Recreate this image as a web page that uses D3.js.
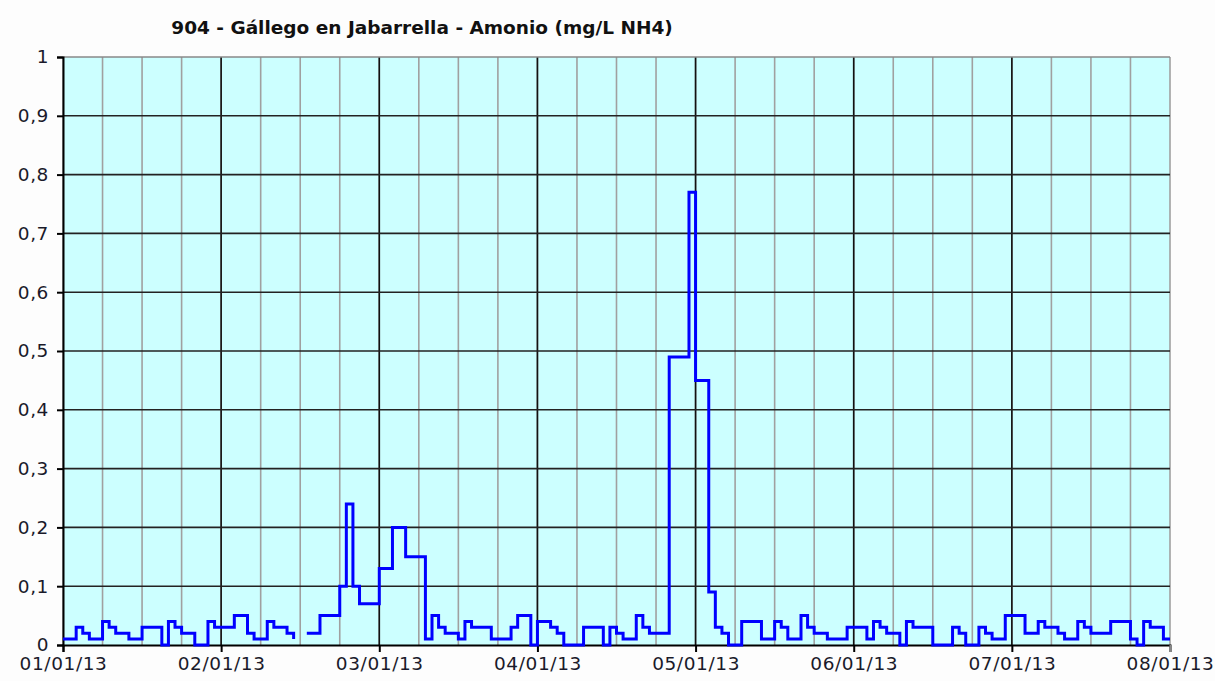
<!DOCTYPE html>
<html>
<head>
<meta charset="utf-8">
<script src="https://cdn.jsdelivr.net/npm/d3@7"></script>
<style>
  body { margin: 0; background: #fdfdfd; }
  svg { display: block; }
</style>
</head>
<body>
<div id="chart"></div>
<script>
// hourly readings, 01/01/13 00:00 onward (null = no data)
var day1 = [0.01,0.01,0.03,0.02,0.01,0.01,0.04,0.03,0.02,0.02,0.01,0.01,0.03,0.03,0.03,0,0.04,0.03,0.02,0.02,0,0,0.04,0.03];
var day2 = [0.03,0.03,0.05,0.05,0.02,0.01,0.01,0.04,0.03,0.03,0.02,0.01,null,0.02,0.02,0.05,0.05,0.05,0.1,0.24,0.1,0.07,0.07,0.07];
var day3 = [0.13,0.13,0.2,0.2,0.15,0.15,0.15,0.01,0.05,0.03,0.02,0.02,0.01,0.04,0.03,0.03,0.03,0.01,0.01,0.01,0.03,0.05,0.05,0];
var day4 = [0.04,0.04,0.03,0.02,0,0,0,0.03,0.03,0.03,0,0.03,0.02,0.01,0.01,0.05,0.03,0.02,0.02,0.02,0.49,0.49,0.49,0.77];
var day5 = [0.45,0.45,0.09,0.03,0.02,0,0,0.04,0.04,0.04,0.01,0.01,0.04,0.03,0.01,0.01,0.05,0.03,0.02,0.02,0.01,0.01,0.01,0.03];
var day6 = [0.03,0.03,0.01,0.04,0.03,0.02,0.02,0,0.04,0.03,0.03,0.03,0,0,0,0.03,0.02,0,0,0.03,0.02,0.01,0.01,0.05];
var day7 = [0.05,0.05,0.02,0.02,0.04,0.03,0.03,0.02,0.01,0.01,0.04,0.03,0.02,0.02,0.02,0.04,0.04,0.04,0.01,0,0.04,0.03,0.03,0.01];
var lastValue = [0.01];

var yTicks = [0,0.1,0.2,0.3,0.4,0.5,0.6,0.7,0.8,0.9,1];
var title = "904 - Gállego en Jabarrella - Amonio (mg/L NH4)";

var values = [].concat(day1, day2, day3, day4, day5, day6, day7, lastValue);
var start = new Date(2013, 0, 1);
var data = values.map(function(v, i) { return { t: d3.timeHour.offset(start, i), v: v }; });

var W = 1215, H = 681;
var margin = { left: 63, right: 45, top: 57, bottom: 36 };

var svg = d3.select("#chart").append("svg")
    .attr("width", W)
    .attr("height", H);

var x = d3.scaleTime()
    .domain([start, new Date(2013, 0, 8)])
    .range([margin.left, W - margin.right]);
var y = d3.scaleLinear()
    .domain([0, 1])
    .range([H - margin.bottom, margin.top]);

// plot background
svg.append("rect")
    .attr("x", x.range()[0]).attr("y", y(1))
    .attr("width", x.range()[1] - x.range()[0])
    .attr("height", y(0) - y(1))
    .attr("fill", "#ccffff");

// minor vertical grid (6h)
svg.append("g").selectAll("line")
  .data(d3.timeHour.every(6).range(start, new Date(2013, 0, 8, 1)))
  .enter().append("line")
    .attr("x1", function(d){ return x(d); }).attr("x2", function(d){ return x(d); })
    .attr("y1", y(0)).attr("y2", y(1))
    .attr("stroke", "#a0a0a0").attr("stroke-width", 1.6);

// major vertical grid (days)
var days = d3.timeDay.range(start, new Date(2013, 0, 8, 1));
svg.append("g").selectAll("line")
  .data(days.slice(1, -1))
  .enter().append("line")
    .attr("x1", function(d){ return x(d); }).attr("x2", function(d){ return x(d); })
    .attr("y1", y(0)).attr("y2", y(1))
    .attr("stroke", "#111").attr("stroke-width", 1.6);

// horizontal grid
svg.append("g").selectAll("line")
  .data(yTicks.slice(1, -1))
  .enter().append("line")
    .attr("x1", x.range()[0]).attr("x2", x.range()[1])
    .attr("y1", function(d){ return y(d); }).attr("y2", function(d){ return y(d); })
    .attr("stroke", "#222").attr("stroke-width", 1.6);

// top border
svg.append("line")
    .attr("x1", x.range()[0]).attr("x2", x.range()[1])
    .attr("y1", y(1)).attr("y2", y(1))
    .attr("stroke", "#888").attr("stroke-width", 1.6);

// axes
var yAxis = d3.axisLeft(y)
    .tickValues(yTicks)
    .tickSize(6)
    .tickPadding(8)
    .tickFormat(function(d){ return String(d).replace(".", ","); });
var xAxis = d3.axisBottom(x)
    .tickValues(days)
    .tickSize(7)
    .tickPadding(5)
    .tickFormat(d3.timeFormat("%d/%m/%y"));

var gy = svg.append("g")
    .attr("transform", "translate(" + margin.left + ",0)")
    .call(yAxis);
var gx = svg.append("g")
    .attr("transform", "translate(0," + y(0) + ")")
    .call(xAxis);

[gx, gy].forEach(function(g){
  g.select(".domain").attr("stroke", "#000").attr("stroke-width", 2);
  g.selectAll(".tick line").attr("stroke", "#000").attr("stroke-width", 2);
  g.selectAll(".tick text")
    .attr("fill", "#1a1a2a")
    .style("font-family", "'DejaVu Sans', Verdana, sans-serif")
    .style("font-size", "18.5px")
    .style("letter-spacing", "0.6px");
});
gx.selectAll(".tick text").attr("dy", "0.72em");
gx.select(".tick:last-of-type line").attr("stroke", "#888");

// series
var line = d3.line()
    .defined(function(d){ return d.v !== null; })
    .x(function(d){ return x(d.t); })
    .y(function(d){ return y(d.v); })
    .curve(d3.curveStepAfter);

svg.append("path")
    .datum(data)
    .attr("fill", "none")
    .attr("stroke", "#0000ff")
    .attr("stroke-width", 3)
    .attr("d", line);

// title
svg.append("text")
    .attr("x", 422)
    .attr("y", 34)
    .attr("text-anchor", "middle")
    .attr("fill", "#111")
    .style("font-family", "'DejaVu Sans', sans-serif")
    .style("font-weight", "bold")
    .style("font-size", "18.5px")
    .text(title);
</script>
</body>
</html>
